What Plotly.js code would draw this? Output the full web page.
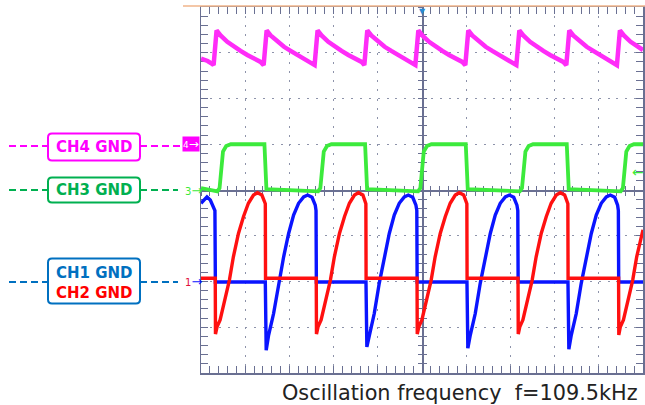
<!DOCTYPE html>
<html><head><meta charset="utf-8">
<script src="https://cdn.plot.ly/plotly-3.0.1.min.js"></script>
<style>html,body{margin:0;padding:0;background:#fff}#chart{width:645px;height:405px}</style>
</head><body><div id="chart"></div>
<script>
// Time in microseconds (4 us/div, trigger at 0); values in divisions relative to each channel's GND marker
const ch1Time = [-20, -19.46, -19.16, -18.86, -18.74, -18.70,
 -14.18, -14.10, -13.88, -13.43, -12.98, -12.52, -12.07, -11.62, -11.17, -10.71, -10.35, -9.95, -9.66, -9.59, -9.56,
 -5.07, -4.99, -4.77, -4.32, -3.87, -3.41, -2.96, -2.51, -2.06, -1.60, -1.24, -0.84, -0.55, -0.47, -0.44,
 4.07, 4.15, 4.37, 4.82, 5.27, 5.73, 6.18, 6.63, 7.08, 7.54, 7.90, 8.30, 8.59, 8.67, 8.70,
 13.21, 13.29, 13.51, 13.96, 14.41, 14.87, 15.32, 15.77, 16.22, 16.68, 17.04, 17.44, 17.70, 17.77, 17.80,
 20];
const ch1Div = [1.71, 1.85, 1.78, 1.63, 1.55, -0.01,
 -0.01, -1.50, -1.17, -0.70, -0.04, 0.54, 1.05, 1.45, 1.71, 1.85, 1.89, 1.84, 1.67, 1.55, -0.01,
 -0.01, -1.43, -1.17, -0.70, -0.04, 0.54, 1.05, 1.45, 1.71, 1.85, 1.89, 1.84, 1.67, 1.55, -0.01,
 -0.01, -1.46, -1.17, -0.70, -0.04, 0.54, 1.05, 1.45, 1.71, 1.85, 1.89, 1.84, 1.67, 1.55, -0.01,
 -0.01, -1.48, -1.17, -0.70, -0.04, 0.54, 1.05, 1.45, 1.71, 1.85, 1.89, 1.84, 1.67, 1.55, -0.01,
 -0.01];

const ch2Time = [-20, -18.71, -18.69, -18.55, -18.27, -17.81, -17.43, -17.07, -16.61, -16.15, -15.71, -15.25, -14.89, -14.49, -14.29, -14.18, -14.16,
 -9.57, -9.55, -9.41, -9.13, -8.67, -8.29, -7.93, -7.47, -7.01, -6.57, -6.11, -5.75, -5.35, -5.17, -5.08, -5.06,
 -0.45, -0.43, -0.29, -0.01, 0.45, 0.83, 1.19, 1.65, 2.11, 2.55, 3.01, 3.37, 3.77, 3.97, 4.06, 4.08,
 8.69, 8.71, 8.85, 9.13, 9.59, 9.97, 10.33, 10.79, 11.25, 11.69, 12.15, 12.51, 12.91, 13.11, 13.20, 13.22,
 17.79, 17.81, 17.95, 18.23, 18.69, 19.07, 19.43, 19.89, 20];
const ch2Div = [0.07, 0.07, -1.15, -0.99, -0.84, -0.40, 0.03, 0.54, 1.05, 1.42, 1.71, 1.89, 1.94, 1.89, 1.78, 1.70, 0.07,
 0.07, -1.15, -0.99, -0.84, -0.40, 0.03, 0.54, 1.05, 1.42, 1.71, 1.89, 1.94, 1.89, 1.78, 1.70, 0.07,
 0.07, -1.15, -0.99, -0.84, -0.40, 0.03, 0.54, 1.05, 1.42, 1.71, 1.89, 1.94, 1.89, 1.78, 1.70, 0.07,
 0.07, -1.15, -0.99, -0.84, -0.40, 0.03, 0.54, 1.05, 1.42, 1.71, 1.89, 1.94, 1.89, 1.78, 1.70, 0.07,
 0.07, -1.17, -0.99, -0.84, -0.40, 0.03, 0.54, 1.05, 1.13];

const ch3Time = [-20, -18.52, -18.32, -18.01, -17.72, -17.30, -14.26, -14.08,
 -9.40, -9.20, -8.89, -8.60, -8.20, -5.15, -4.97,
 -0.35, -0.15, 0.16, 0.45, 0.85, 3.96, 4.14,
 8.85, 9.05, 9.36, 9.65, 10.05, 13.10, 13.28,
 17.98, 18.18, 18.49, 18.78, 19.18, 20];
const ch3Div = [0.04, -0.03, 0.04, 0.84, 0.96, 1.00, 1.00, 0.02,
 -0.03, 0.04, 0.84, 0.96, 1.00, 1.00, 0.02,
 -0.03, 0.04, 0.84, 0.96, 1.00, 1.00, 0.02,
 -0.03, 0.04, 0.84, 0.96, 1.00, 1.00, 0.02,
 -0.03, 0.04, 0.84, 0.96, 1.00, 1.00];

const ch4Time = [-20, -19.40, -19.00, -18.86, -18.59,
 -18.23, -17.62, -17.02, -16.42, -15.81, -15.21, -14.61, -14.33, -14.06,
 -13.70, -13.09, -12.49, -11.89, -11.28, -10.68, -10.08, -9.72, -9.45,
 -9.09, -8.48, -7.88, -7.28, -6.67, -6.07, -5.47, -5.22, -4.95,
 -4.59, -3.98, -3.38, -2.78, -2.17, -1.57, -0.97, -0.60, -0.33,
 0.03, 0.64, 1.24, 1.84, 2.45, 3.05, 3.65, 3.92, 4.19,
 4.55, 5.16, 5.76, 6.36, 6.97, 7.57, 8.17, 8.54, 8.81,
 9.17, 9.78, 10.38, 10.98, 11.59, 12.19, 12.79, 13.06, 13.33,
 13.69, 14.30, 14.90, 15.50, 16.11, 16.71, 17.31, 17.64, 17.91,
 18.27, 18.88, 19.48, 20];
const ch4Div = [1.87, 1.82, 1.76, 1.73, 2.49,
 2.38, 2.24, 2.13, 2.04, 1.95, 1.87, 1.80, 1.73, 2.49,
 2.38, 2.24, 2.13, 2.04, 1.95, 1.87, 1.80, 1.73, 2.49,
 2.38, 2.24, 2.13, 2.04, 1.95, 1.87, 1.80, 1.73, 2.49,
 2.38, 2.24, 2.13, 2.04, 1.95, 1.87, 1.80, 1.73, 2.49,
 2.38, 2.24, 2.13, 2.04, 1.95, 1.87, 1.80, 1.73, 2.49,
 2.38, 2.24, 2.13, 2.04, 1.95, 1.87, 1.80, 1.73, 2.49,
 2.38, 2.24, 2.13, 2.04, 1.95, 1.87, 1.80, 1.73, 2.49,
 2.38, 2.24, 2.13, 2.04, 1.95, 1.87, 1.80, 1.73, 2.49,
 2.38, 2.24, 2.13, 2.06];

const groundLabels = ['CH4 GND', 'CH3 GND', 'CH1 GND', 'CH2 GND'];
const captionText = 'Oscillation frequency  f=109.5kHz';
const triggerTime = 0;
const ch3TrigLevel = 0.4;

// ---- layout / style ----
const W = 645, H = 405, ML = 201, MR = 2, MT = 7, MB = 32;
const PW = W - ML - MR, PH = H - MT - MB;
const X = v => (v - ML) / PW, Y = v => (H - MB - v) / PH;
const axisColor = '#6a7092', gridColor = '#8d93aa';
const cBlue = '#0a14ff', cRed = '#ff1010', cGreen = '#3cea3c', cMag = '#ff2cf8';
const lblMag = '#ff00ff', lblGreen = '#00b050', lblBlue = '#0070c0', lblRed = '#ff0000';

function rrect(x0, y0, x1, y1, r) {
  return `M${X(x0 + r)},${Y(y0)} L${X(x1 - r)},${Y(y0)} Q${X(x1)},${Y(y0)} ${X(x1)},${Y(y0 + r)} ` +
    `L${X(x1)},${Y(y1 - r)} Q${X(x1)},${Y(y1)} ${X(x1 - r)},${Y(y1)} L${X(x0 + r)},${Y(y1)} ` +
    `Q${X(x0)},${Y(y1)} ${X(x0)},${Y(y1 - r)} L${X(x0)},${Y(y0 + r)} Q${X(x0)},${Y(y0)} ${X(x0 + r)},${Y(y0)} Z`;
}
function hdash(x0, x1, y, color) {
  return {type: 'line', xref: 'paper', yref: 'paper', x0: X(x0), x1: X(x1), y0: Y(y), y1: Y(y),
    line: {color: color, width: 2, dash: '7px,4px'}};
}
function box(x0, y0, x1, y1, color) {
  return {type: 'path', xref: 'paper', yref: 'paper', path: rrect(x0, y0, x1, y1, 4),
    line: {color: color, width: 2}, fillcolor: '#ffffff'};
}
function lbl(x, yref, y, text, font, extra) {
  return Object.assign({xref: 'paper', yref: yref, x: x, y: y, xanchor: 'center', yanchor: 'middle',
    text: text, showarrow: false, font: font}, extra || {});
}

const traces = [
  {x: ch1Time, y: ch1Div, xaxis: 'x', yaxis: 'y', mode: 'lines', line: {color: cBlue, width: 3.4}, name: 'CH1'},
  {x: ch2Time, y: ch2Div, xaxis: 'x', yaxis: 'y', mode: 'lines', line: {color: cRed, width: 3.4}, name: 'CH2'},
  {x: ch3Time, y: ch3Div, xaxis: 'x', yaxis: 'y2', mode: 'lines', line: {color: cGreen, width: 3.8}, name: 'CH3'},
  {x: ch4Time, y: ch4Div, xaxis: 'x', yaxis: 'y3', mode: 'lines', line: {color: cMag, width: 4.5}, name: 'CH4'},
  {x: [null], y: [null], xaxis: 'x2', yaxis: 'y', mode: 'lines'},
  {x: [null], y: [null], xaxis: 'x3', yaxis: 'y', mode: 'lines'},
  {x: [null], y: [null], xaxis: 'x', yaxis: 'y4', mode: 'lines'},
  {x: [null], y: [null], xaxis: 'x', yaxis: 'y5', mode: 'lines'}
];

const baseAx = {showticklabels: false, zeroline: false, layer: 'below traces', fixedrange: true};
const fB = (size, color) => ({family: 'DejaVu Sans', size: size, color: color});
const layout = {
  width: W, height: H, margin: {l: ML, r: MR, t: MT, b: MB},
  paper_bgcolor: '#ffffff', plot_bgcolor: '#ffffff', showlegend: false,
  xaxis: Object.assign({}, baseAx, {range: [-20, 20], showgrid: true, gridcolor: gridColor, gridwidth: 1,
    griddash: '2px,7.15px', tick0: -20, dtick: 4, ticks: 'inside', ticklen: 7, tickcolor: axisColor, tickwidth: 1,
    minor: {dtick: 0.8, tick0: -20, ticks: 'inside', ticklen: 4, tickcolor: axisColor, tickwidth: 1, showgrid: false},
    showline: true, linecolor: axisColor, linewidth: 1.5, mirror: 'allticks'}),
  yaxis: Object.assign({}, baseAx, {range: [-2, 6], showgrid: true, gridcolor: gridColor, gridwidth: 1,
    griddash: '2px,6.84px', tick0: -2, dtick: 1, ticks: 'inside', ticklen: 7, tickcolor: axisColor, tickwidth: 1,
    minor: {dtick: 0.2, tick0: -2, ticks: 'inside', ticklen: 4, tickcolor: axisColor, tickwidth: 1, showgrid: false},
    showline: true, linecolor: axisColor, linewidth: 1.5, mirror: 'allticks'}),
  yaxis2: Object.assign({}, baseAx, {range: [-4, 4], overlaying: 'y', visible: false}),
  yaxis3: Object.assign({}, baseAx, {range: [-5, 3], overlaying: 'y', visible: false}),
  xaxis2: Object.assign({}, baseAx, {range: [-20, 20], overlaying: 'x', anchor: 'free', position: 0.5,
    showgrid: false, showline: true, linecolor: axisColor, linewidth: 1.5, ticks: 'outside', ticklen: 4,
    tickcolor: axisColor, tick0: 0, dtick: 0.8}),
  xaxis3: Object.assign({}, baseAx, {range: [-20, 20], overlaying: 'x', anchor: 'free', position: 0.5,
    showgrid: false, showline: false, ticks: 'inside', ticklen: 4, tickcolor: axisColor, tick0: 0, dtick: 0.8}),
  yaxis4: Object.assign({}, baseAx, {range: [-2, 6], overlaying: 'y', anchor: 'free', position: 0.5,
    showgrid: false, showline: true, linecolor: axisColor, linewidth: 1.5, ticks: 'outside', ticklen: 4,
    tickcolor: axisColor, tick0: 0, dtick: 0.2}),
  yaxis5: Object.assign({}, baseAx, {range: [-2, 6], overlaying: 'y', anchor: 'free', position: 0.5,
    showgrid: false, showline: false, ticks: 'inside', ticklen: 4, tickcolor: axisColor, tick0: 0, dtick: 0.2}),
  shapes: [
    {type: 'line', xref: 'paper', yref: 'paper', x0: X(183), x1: X(645), y0: Y(6), y1: Y(6),
      line: {color: '#f0b48a', width: 1.5}},
    hdash(9, 48, 146, lblMag), hdash(140, 182, 146, lblMag), box(48, 133.5, 140, 160.5, lblMag),
    hdash(9, 48, 190, lblGreen), hdash(140, 178, 190, lblGreen), box(48, 177.5, 140, 202.5, lblGreen),
    hdash(9, 48, 282, lblBlue), hdash(140, 178, 282, lblBlue), box(48, 258.5, 140, 303.5, lblBlue)
  ],
  annotations: [
    lbl(X(94), 'paper', Y(147), '<b>' + groundLabels[0] + '</b>', fB(15, lblMag)),
    lbl(X(94), 'paper', Y(190), '<b>' + groundLabels[1] + '</b>', fB(15, lblGreen)),
    lbl(X(94), 'paper', Y(272.5), '<b>' + groundLabels[2] + '</b>', fB(15, lblBlue)),
    lbl(X(94), 'paper', Y(292.5), '<b>' + groundLabels[3] + '</b>', fB(15, lblRed)),
    lbl(X(191), 'y3', 0, '4<span style="font-size:12px">→</span>', fB(9, '#ffffff'), {bgcolor: '#ff00ff', borderpad: 0}),
    lbl(X(193), 'y2', 0, '3<span style="font-size:13px">→</span>', fB(10, cGreen)),
    lbl(X(193), 'y', 0, '<span style="color:#e0103a">1</span><span style="font-size:13px">→</span>', fB(10, cBlue)),
    lbl(X(638), 'y2', ch3TrigLevel, '←', fB(14, cGreen)),
    {xref: 'x', yref: 'paper', x: triggerTime, y: 1.005, xanchor: 'center', yanchor: 'top', text: '▼',
      showarrow: false, font: fB(8, '#2a8ad4')},
    {xref: 'paper', yref: 'paper', x: X(640), y: Y(393), xanchor: 'right', yanchor: 'middle', text: captionText,
      showarrow: false, font: fB(20.8, '#222222')}
  ]
};

Plotly.newPlot('chart', traces, layout, {staticPlot: true, displayModeBar: false});
</script>
</body></html>
